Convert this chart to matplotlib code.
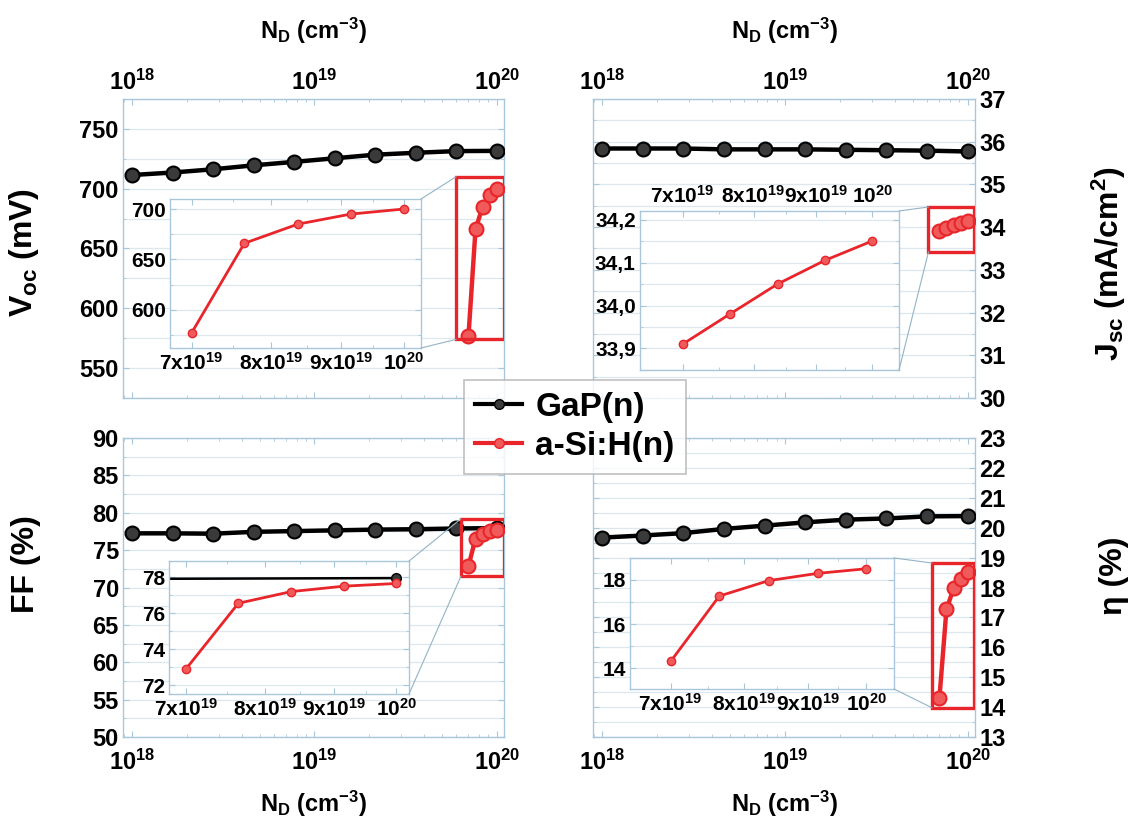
import matplotlib
matplotlib.use("Agg")
import matplotlib.pyplot as plt
from matplotlib.patches import Rectangle, ConnectionPatch
from matplotlib.ticker import FixedLocator, NullFormatter, MultipleLocator

plt.rcParams['font.family'] = ['Liberation Sans', 'DejaVu Sans']
plt.rcParams['font.weight'] = 'bold'
plt.rcParams['axes.labelweight'] = 'bold'
plt.rcParams['mathtext.fontset'] = 'custom'
plt.rcParams['mathtext.rm'] = 'Liberation Sans:bold'
plt.rcParams['mathtext.it'] = 'Liberation Sans:bold'
plt.rcParams['mathtext.bf'] = 'Liberation Sans:bold'
plt.rcParams['mathtext.default'] = 'rm'

# doping levels (cm^-3)
nd_gap = [1e18, 1.668e18, 2.783e18, 4.642e18, 7.743e18, 1.292e19, 2.154e19, 3.594e19, 5.995e19, 1e20]
nd_asi = [7.0e19, 7.65e19, 8.37e19, 9.15e19, 1.0e20]

# GaP(n)
voc_gap = [711.4, 713.5, 716.2, 719.5, 722.4, 725.4, 728.4, 730.0, 731.4, 731.6]
jsc_gap = [35.84, 35.84, 35.84, 35.82, 35.82, 35.82, 35.81, 35.80, 35.79, 35.77]
ff_gap = [77.25, 77.25, 77.2, 77.45, 77.55, 77.65, 77.75, 77.8, 77.9, 77.95]
eta_gap = [19.67, 19.74, 19.82, 19.96, 20.07, 20.18, 20.27, 20.31, 20.38, 20.39]

# a-Si:H(n)
voc_asi = [577, 666, 685, 695, 700]
jsc_asi = [33.91, 33.98, 34.05, 34.105, 34.15]
ff_asi = [72.9, 76.55, 77.2, 77.5, 77.65]
eta_asi = [14.3, 17.27, 17.97, 18.3, 18.51]

inset_ticks = [7e19, 8e19, 9e19, 1e20]
inset_labels = [r'7x10$^{19}$', r'8x10$^{19}$', r'9x10$^{19}$', r'10$^{20}$']

BLUE = '#a9c7da'
GRID = '#dde7ee'
RED = '#e8252b'

fig = plt.figure(figsize=(11.38, 8.26), dpi=100)

panels = [
    dict(pos=[0.1081, 0.5182, 0.3348, 0.3620], ylim=(525, 775), mnr=25,
         ticks=range(550, 751, 50), label=r'V$_{oc}$ (mV)', gap=voc_gap, asi=voc_asi,
         right=False, top=True, lab=(-0.215, 0.485),
         inset=[0.1494, 0.5787, 0.2206, 0.1804], ixlim=(6.75e19, 1.03e20), iylim=(562, 710),
         iticks=[600, 650, 700], imnr=25, itop=False, fmt='%d',
         box=(5.99e19, 1.09e20, 574, 710)),
    dict(pos=[0.5211, 0.5182, 0.3357, 0.3620], ylim=(30, 37), mnr=0.5,
         ticks=range(30, 38), label=r'J$_{sc}$ (mA/cm$^2$)', gap=jsc_gap, asi=jsc_asi,
         right=True, top=True, lab=(1.300, 0.45),
         inset=[0.5624, 0.5521, 0.2276, 0.1925], ixlim=(6.46e19, 1.052e20), iylim=(33.85, 34.22),
         iticks=[33.9, 34.0, 34.1, 34.2], imnr=0.05, itop=True, fmt='%.1f',
         box=(6.1e19, 1.087e20, 33.42, 34.47)),
    dict(pos=[0.1081, 0.1077, 0.3348, 0.3620], ylim=(50, 90), mnr=2.5,
         ticks=range(50, 91, 5), label='FF (%)', gap=ff_gap, asi=ff_asi,
         right=False, top=False, lab=(-0.215, 0.58),
         inset=[0.1485, 0.1598, 0.2109, 0.1610], ixlim=(6.8e19, 1.022e20), iylim=(71.5, 78.9),
         iticks=[72, 74, 76, 78], imnr=1, itop=False, fmt='%d',
         box=(6.37e19, 1.09e20, 71.54, 79.2)),
    dict(pos=[0.5211, 0.1077, 0.3357, 0.3620], ylim=(13, 23), mnr=0.5,
         ticks=range(13, 24), label='η (%)', gap=eta_gap, asi=eta_asi,
         right=True, top=False, lab=(1.325, 0.54),
         inset=[0.5536, 0.1659, 0.2320, 0.1586], ixlim=(6.5e19, 1.052e20), iylim=(13.05, 19.0),
         iticks=[14, 16, 18], imnr=1, itop=False, fmt='%d',
         box=(6.37e19, 1.087e20, 13.98, 18.82)),
]


def style_axes(ax, size):
    for s in ax.spines.values():
        s.set_color(BLUE)
        s.set_linewidth(1.0)
    ax.tick_params(which='both', direction='in', top=True, right=True, color=BLUE,
                   labelsize=size, pad=3)
    ax.tick_params(which='major', length=4)
    ax.tick_params(which='minor', length=2)
    ax.grid(True, axis='y', which='both', color=GRID, linewidth=0.9)
    ax.set_axisbelow(True)


for p in panels:
    ax = fig.add_axes(p['pos'])
    style_axes(ax, 17)
    ax.set_xscale('log')
    ax.set_xlim(10 ** 17.95, 10 ** 20.04)
    ax.set_ylim(*p['ylim'])
    ax.set_yticks(list(p['ticks']))
    ax.yaxis.set_minor_locator(MultipleLocator(p['mnr']))
    ax.xaxis.set_minor_formatter(NullFormatter())
    ax.plot(nd_gap, p['gap'], '-o', color='black', lw=3.2, ms=10,
            mfc='#3a3a3a', mec='black', mew=1.5, zorder=3)
    ax.plot(nd_asi, p['asi'], '-o', color=RED, lw=3.2, ms=10,
            mfc='#f05a5a', mec=RED, mew=1.5, zorder=3)
    x0, x1, y0, y1 = p['box']
    ax.add_patch(Rectangle((x0, y0), x1 - x0, y1 - y0, fill=False, ec=RED, lw=2.4, zorder=4))

    if p['top']:
        ax.tick_params(axis='x', labeltop=True, labelbottom=False)
        ax.xaxis.set_label_position('top')
        ax.set_xlabel(r'N$_{\rm D}$ (cm$^{-3}$)', fontsize=17, labelpad=22)
    else:
        ax.tick_params(axis='x', pad=9)
        ax.set_xlabel(r'N$_{\rm D}$ (cm$^{-3}$)', fontsize=17, labelpad=10)
    if p['right']:
        ax.tick_params(axis='y', labelright=True, labelleft=False)
        ax.yaxis.set_label_position('right')
        ax.set_ylabel(p['label'], fontsize=23, rotation=90)
    else:
        ax.set_ylabel(p['label'], fontsize=23)
    ax.yaxis.set_label_coords(*p['lab'])

    # zoomed inset
    ins = fig.add_axes(p['inset'])
    style_axes(ins, 15)
    ins.set_facecolor('white')
    ins.set_xscale('log')
    ins.set_xlim(*p['ixlim'])
    ins.set_ylim(*p['iylim'])
    ins.xaxis.set_major_locator(FixedLocator(inset_ticks))
    ins.set_xticklabels(inset_labels)
    ins.xaxis.set_minor_locator(FixedLocator([7.5e19, 8.5e19, 9.5e19]))
    ins.xaxis.set_minor_formatter(NullFormatter())
    ins.set_yticks(p['iticks'])
    ins.set_yticklabels([(p['fmt'] % v).replace('.', ',') for v in p['iticks']])
    ins.yaxis.set_minor_locator(MultipleLocator(p['imnr']))
    ins.plot(nd_gap, p['gap'], '-o', color='black', lw=1.8, ms=7, mfc='#3a3a3a', mec='black')
    ins.plot(nd_asi, p['asi'], '-o', color=RED, lw=2.0, ms=6, mfc='#f05a5a', mec=RED)
    if p['itop']:
        ins.tick_params(axis='x', labeltop=True, labelbottom=False)

    for fa, yd in [((1, 1), y1), ((1, 0), y0)]:
        con = ConnectionPatch(xyA=fa, coordsA=ins.transAxes, xyB=(x0, yd), coordsB=ax.transData,
                              color='#93b3c6', lw=0.8)
        fig.add_artist(con)

# legend
h1, = plt.plot([], [], '-o', color='black', lw=3, ms=7, mfc='#3a3a3a', mec='black')
h2, = plt.plot([], [], '-o', color=RED, lw=3, ms=7, mfc='#f05a5a', mec=RED)
leg = fig.legend([h1, h2], ['GaP(n)', 'a-Si:H(n)'], loc='center',
                 bbox_to_anchor=(0.5053, 0.4831), fontsize=24, frameon=True,
                 fancybox=False, edgecolor='#b0b0b0', handlelength=1.4,
                 handletextpad=0.4, borderpad=0.35, labelspacing=0.25)
leg.get_frame().set_linewidth(1.2)
leg.set_zorder(10)

fig.savefig('out.png', dpi=100, facecolor='white')
